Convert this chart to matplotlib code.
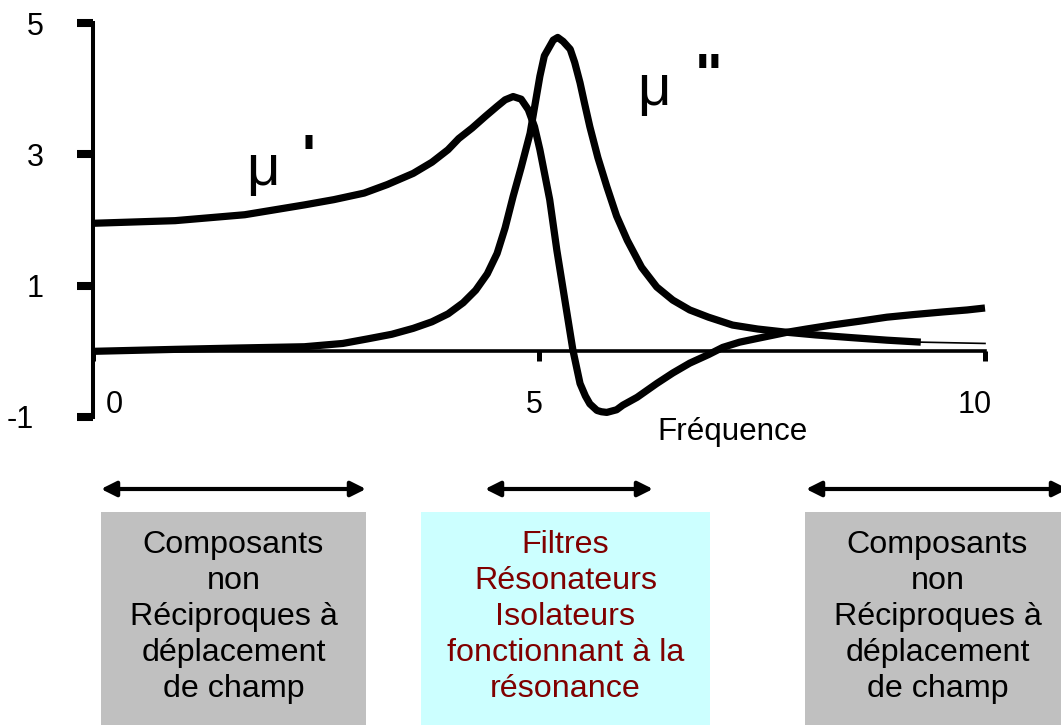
import matplotlib.pyplot as plt
import matplotlib.transforms as mtransforms
from matplotlib.patches import Rectangle, FancyArrowPatch

plt.rcParams['font.family'] = ['Liberation Sans', 'DejaVu Sans']

# mu' (real part)
freq_mu1 = [0, 0.92, 1.70, 2.37, 2.70, 3.04, 3.30, 3.59, 3.80, 3.98, 4.10, 4.25,
            4.40, 4.53, 4.62, 4.71, 4.80, 4.88, 4.95, 5.01, 5.12, 5.20, 5.29,
            5.38, 5.46, 5.52, 5.57, 5.65, 5.70, 5.76, 5.87, 5.94, 6.10, 6.32,
            6.50, 6.69, 6.90, 7.06, 7.25, 7.46, 7.78, 8.00, 8.28, 8.60, 8.90,
            9.20, 9.53, 9.80, 10.0]
mu1 = [1.95, 1.99, 2.08, 2.23, 2.31, 2.41, 2.54, 2.71, 2.88, 3.07, 3.24, 3.40,
       3.58, 3.73, 3.83, 3.88, 3.84, 3.68, 3.42, 3.07, 2.31, 1.54, 0.78,
       0.02, -0.49, -0.68, -0.80, -0.90, -0.92, -0.93, -0.89, -0.82, -0.70, -0.49,
       -0.33, -0.18, -0.05, 0.06, 0.14, 0.20, 0.29, 0.34, 0.40, 0.46, 0.52,
       0.56, 0.60, 0.63, 0.66]

# mu'' (imaginary part), thick part then thin tail
freq_mu2 = [0, 0.92, 1.60, 2.37, 2.80, 3.08, 3.35, 3.59, 3.80, 3.98, 4.15, 4.29,
            4.42, 4.53, 4.62, 4.71, 4.80, 4.90, 5.01, 5.06, 5.16, 5.21, 5.27,
            5.35, 5.40, 5.46, 5.51, 5.57, 5.66, 5.76, 5.87, 5.99, 6.15, 6.32,
            6.50, 6.69, 6.90, 7.17, 7.45, 7.78, 8.10, 8.49, 8.90, 9.28]
mu2 = [0, 0.03, 0.05, 0.07, 0.12, 0.19, 0.26, 0.35, 0.45, 0.57, 0.74, 0.93,
       1.18, 1.49, 1.88, 2.36, 2.80, 3.32, 4.19, 4.50, 4.74, 4.78, 4.72,
       4.60, 4.40, 4.09, 3.78, 3.42, 2.95, 2.51, 2.06, 1.69, 1.28, 0.98,
       0.78, 0.63, 0.52, 0.40, 0.34, 0.29, 0.25, 0.21, 0.17, 0.14]
freq_tail = [9.28, 10.0]
mu2_tail = [0.14, 0.12]

xticks = [0, 5, 10]
xtick_labels = ['0', '5', '10']
yticks = [-1, 1, 3, 5]
ytick_labels = ['-1', '1', '3', '5']

box_texts = [
    'Composants\nnon\nRéciproques à\ndéplacement\nde champ',
    'Filtres\nRésonateurs\nIsolateurs\nfonctionnant à la\nrésonance',
    'Composants\nnon\nRéciproques à\ndéplacement\nde champ',
]

W, H = 1061, 725
fig = plt.figure(figsize=(W / 100, H / 100), dpi=100)


def fx(px):
    return px / W


def fy(py):
    return 1 - py / H


ax = fig.add_axes([fx(93), fy(417), 892 / W, 394 / H])
ax.set_xlim(0, 10)
ax.set_ylim(-1, 5)

ax.plot(freq_mu1, mu1, color='black', lw=5.2, solid_joinstyle='round',
        solid_capstyle='butt', clip_on=False)
ax.plot(freq_mu2, mu2, color='black', lw=5.2, solid_joinstyle='round',
        solid_capstyle='butt', clip_on=False)
ax.plot(freq_tail, mu2_tail, color='black', lw=1.2, clip_on=False)

for s in ['top', 'right']:
    ax.spines[s].set_visible(False)
ax.spines['bottom'].set_position(('data', 0))
ax.spines['left'].set_linewidth(2.9)
ax.spines['bottom'].set_linewidth(2.6)

ax.set_yticks(yticks, labels=ytick_labels)
ax.set_xticks(xticks, labels=xtick_labels)
ax.tick_params(axis='y', direction='out', length=11.5, width=5.8, pad=24,
               labelsize=22)
ax.tick_params(axis='x', direction='out', length=7.5, width=3.6, pad=20,
               labelsize=22)

# shift a few tick labels like in the original drawing
x_shift = {'0': 21, '5': -5, '10': -10}
for lab in ax.get_xticklabels():
    dx = x_shift.get(lab.get_text(), 0)
    lab.set_transform(lab.get_transform() +
                      mtransforms.ScaledTranslation(dx / 100, 0, fig.dpi_scale_trans))
for lab in ax.get_yticklabels():
    if lab.get_text() == '-1':
        lab.set_transform(lab.get_transform() +
                          mtransforms.ScaledTranslation(-10 / 100, 0, fig.dpi_scale_trans))

fig.text(fx(733), fy(440), 'Fréquence', fontsize=22.6, ha='center', va='baseline')

# curve names
fig.text(fx(246), fy(185), 'μ', fontsize=42, ha='left', va='baseline')
fig.text(fx(308.5), fy(133), "'", fontsize=42, fontweight='bold', ha='center', va='top')
fig.text(fx(637), fy(105), 'μ', fontsize=42, ha='left', va='baseline')
fig.text(fx(708.5), fy(52), '"', fontsize=42, fontweight='bold', ha='center', va='top')

# boxes and arrows below the chart
boxes = [(101, 366, '#C0C0C0', 'black'),
         (421, 710, '#CCFFFF', '#800000'),
         (805, 1070, '#C0C0C0', 'black')]
arrows = [(101, 366), (485, 653), (806, 1068)]

for (x0, x1, fc, tc), txt in zip(boxes, box_texts):
    fig.patches.append(Rectangle((fx(x0), fy(730)), fx(x1) - fx(x0), fy(512) - fy(730),
                                 transform=fig.transFigure, facecolor=fc,
                                 edgecolor='none', figure=fig))
    fig.text(fx((x0 + x1) / 2), fy(617), txt, fontsize=23.2, color=tc,
             ha='center', va='center', multialignment='center', linespacing=1.27)

for x0, x1 in arrows:
    fig.patches.append(FancyArrowPatch((fx(x0), fy(489)), (fx(x1), fy(489)),
                                       transform=fig.transFigure,
                                       arrowstyle='<|-|>,head_length=9,head_width=4.5',
                                       color='black', lw=3, shrinkA=0, shrinkB=0,
                                       mutation_scale=1, figure=fig))

fig.savefig('out.png', dpi=100)
